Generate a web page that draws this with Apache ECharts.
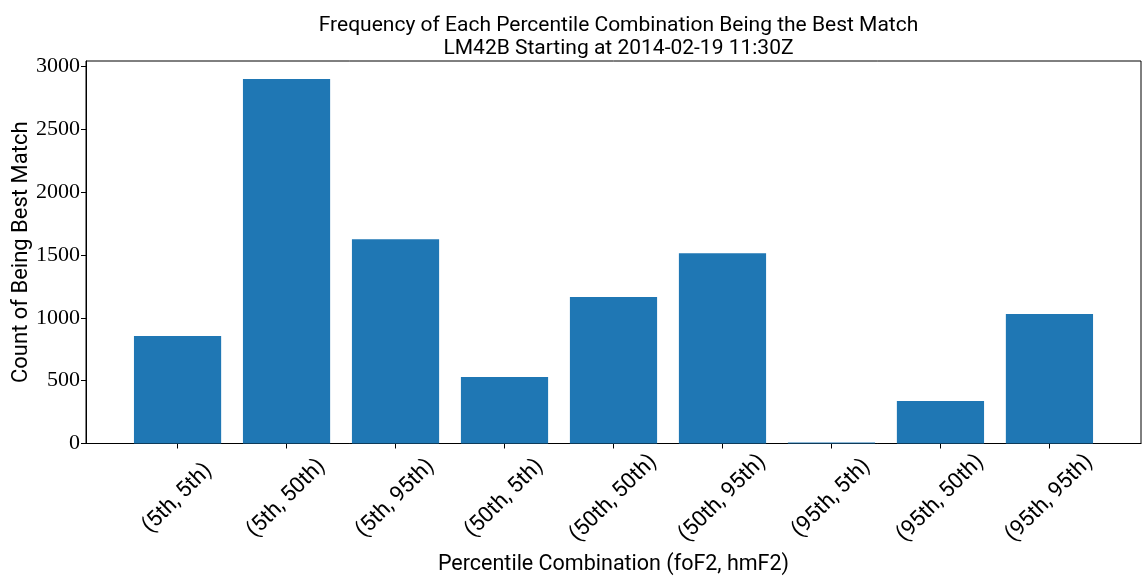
<!DOCTYPE html>
<html>
<head>
<meta charset="utf-8">
<title>Percentile Combination Frequency</title>
<script src="https://cdn.jsdelivr.net/npm/echarts@6/dist/echarts.min.js"></script>
<style>
  html, body { margin: 0; padding: 0; background: #fff; }
  #chart { width: 1146px; height: 577px; }
</style>
</head>
<body>
<div id="chart"></div>
<script>
// Percentile pairs (foF2, hmF2) and how often each was the best match
const categories = [
  '(5th, 5th)', '(5th, 50th)', '(5th, 95th)',
  '(50th, 5th)', '(50th, 50th)', '(50th, 95th)',
  '(95th, 5th)', '(95th, 50th)', '(95th, 95th)'
];
const counts = [855, 2898, 1625, 528, 1165, 1514, 8, 338, 1029];
const yTicks = [0, 500, 1000, 1500, 2000, 2500, 3000];

const positions = categories.map((_, i) => i);
const barData = counts.map((v, i) => [positions[i], v]);

const sans = 'Roboto, "Noto Sans", sans-serif';
const serif = '"Liberation Serif", "DejaVu Serif", serif';

const chart = echarts.init(document.getElementById('chart'), null, { renderer: 'canvas' });
chart.setOption({
  animation: false,
  backgroundColor: '#ffffff',
  title: {
    text: 'Frequency of Each Percentile Combination Being the Best Match\nLM42B Starting at 2014-02-19 11:30Z',
    left: 613.5,
    top: 9,
    textAlign: 'center',
    textStyle: { fontFamily: sans, fontSize: 21, fontWeight: 'normal', color: '#000', lineHeight: 23 }
  },
  grid: {
    left: 86, right: 5, top: 61, bottom: 133.5,
    outerBoundsMode: 'none',
    containLabel: false,
    show: true, borderColor: '#000', borderWidth: 1, backgroundColor: 'transparent'
  },
  xAxis: {
    type: 'value',
    min: -0.84,
    max: 8.84,
    name: 'Percentile Combination (foF2, hmF2)',
    nameLocation: 'middle',
    nameGap: 110,
    nameMoveOverlap: false,
    nameTextStyle: { fontFamily: sans, fontSize: 21.5, color: '#000' },
    axisLine: { show: true, onZero: false, lineStyle: { color: '#000', width: 1 } },
    axisTick: { show: true, length: 5, lineStyle: { color: '#000' }, customValues: positions },
    axisLabel: {
      customValues: positions,
      rotate: 45,
      align: 'center',
      verticalAlign: 'middle',
      margin: 55,
      fontFamily: sans, fontSize: 22, color: '#000',
      formatter: v => categories[Math.round(v)]
    },
    splitLine: { show: false }
  },
  yAxis: {
    type: 'value',
    min: 0,
    max: 3042,
    name: 'Count of Being Best Match',
    nameLocation: 'middle',
    nameGap: 54,
    nameMoveOverlap: false,
    nameTextStyle: { fontFamily: sans, fontSize: 22, color: '#000' },
    axisLine: { show: true, onZero: false, lineStyle: { color: '#000', width: 1 } },
    axisTick: { show: true, length: 5, lineStyle: { color: '#000' }, customValues: yTicks },
    axisLabel: {
      customValues: yTicks, margin: 6,
      fontFamily: serif, fontSize: 22, color: '#000',
      formatter: v => String(v)
    },
    splitLine: { show: false }
  },
  series: [{
    type: 'bar',
    data: barData,
    barWidth: '80%',
    itemStyle: { color: '#1f77b4' }
  }]
});
</script>
</body>
</html>
